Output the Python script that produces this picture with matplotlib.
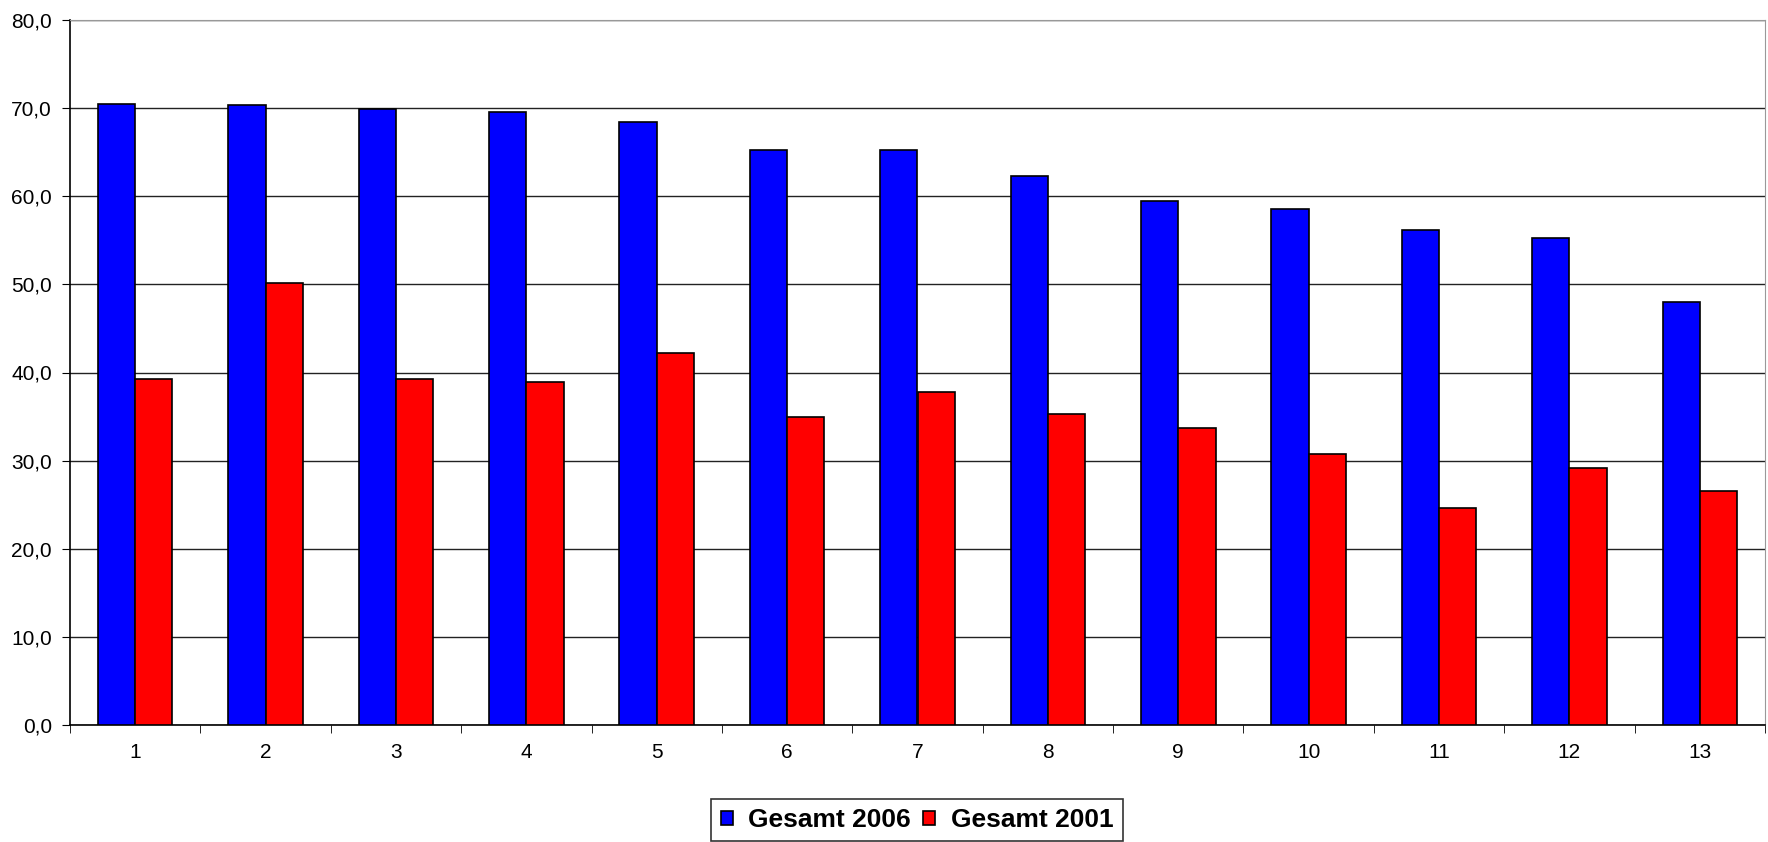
import matplotlib.pyplot as plt
import numpy as np

plt.rcParams['font.family'] = ['Liberation Sans', 'DejaVu Sans']

categories = ["1", "2", "3", "4", "5", "6", "7", "8", "9", "10", "11", "12", "13"]
gesamt_2006 = [70.5, 70.3, 69.9, 69.6, 68.4, 65.3, 65.3, 62.3, 59.5, 58.6, 56.2, 55.3, 48.0]
gesamt_2001 = [39.3, 50.2, 39.3, 38.9, 42.2, 34.9, 37.8, 35.3, 33.7, 30.7, 24.6, 29.2, 26.5]

fig = plt.figure(figsize=(17.68, 8.42), dpi=100)
ax = fig.add_axes([70 / 1768, 1 - 725 / 842, (1765 - 70) / 1768, (725 - 20) / 842])

x = np.arange(len(categories))
w = 1 / 3.5
ax.bar(x - w / 2, gesamt_2006, w, color='#0000ff', edgecolor='black', linewidth=1.2,
       label='Gesamt 2006', zorder=3)
ax.bar(x + w / 2, gesamt_2001, w, color='#ff0000', edgecolor='black', linewidth=1.2,
       label='Gesamt 2001', zorder=3)

ax.set_xlim(-0.5, len(categories) - 0.5)
ax.set_ylim(0, 80)
ax.set_yticks(np.arange(0, 81, 10))
ax.set_yticklabels([f"{v:.1f}".replace('.', ',') for v in np.arange(0, 81, 10)], fontsize=15)
ax.set_xticks(x)
ax.set_xticklabels(categories, fontsize=15)
ax.set_xticks(np.arange(-0.5, len(categories), 1), minor=True)
ax.tick_params(axis='x', which='major', length=0, pad=13)
ax.tick_params(axis='x', which='minor', length=6, color='black', direction='out')
ax.tick_params(axis='y', length=6, direction='out', pad=7)

ax.yaxis.grid(True, color='#222222', linewidth=1)
ax.set_axisbelow(True)
for s in ['top', 'right']:
    ax.spines[s].set_color('#999999')
for s in ['left', 'bottom']:
    ax.spines[s].set_color('black')
    ax.spines[s].set_linewidth(1.2)

leg = fig.legend(loc='upper center', bbox_to_anchor=(917 / 1768, 1 - 799 / 842), ncol=2,
                 prop={'weight': 'bold', 'size': 19}, frameon=True, fancybox=False,
                 edgecolor='black', handlelength=0.45, handleheight=0.45,
                 handletextpad=0.6, columnspacing=0.45, borderpad=0.35,
                 borderaxespad=0)
leg.get_frame().set_linewidth(1.2)

fig.savefig('out.png', dpi=100)
